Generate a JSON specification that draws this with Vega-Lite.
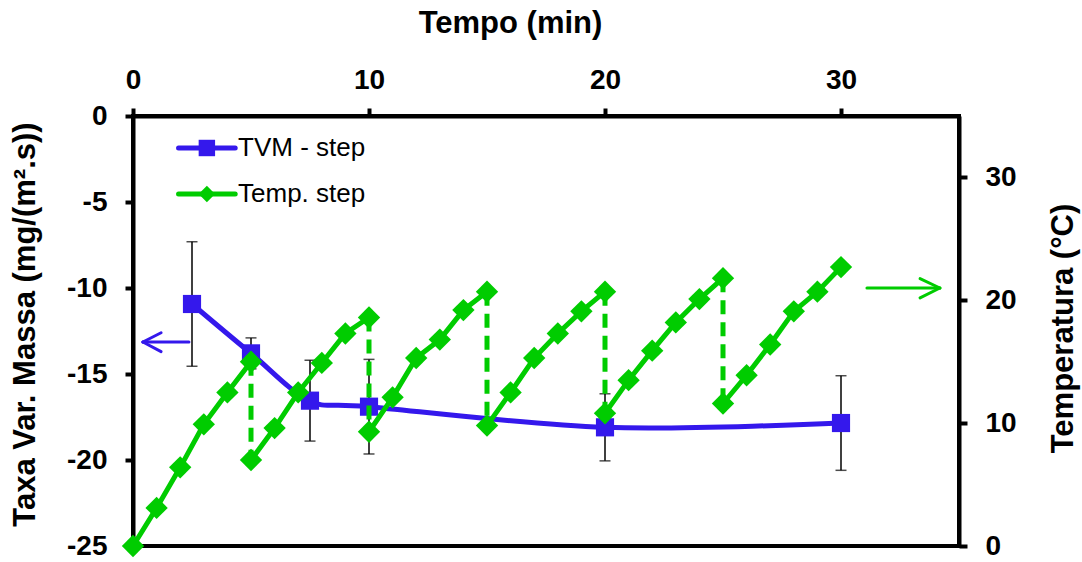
{
  "$schema": "https://vega.github.io/schema/vega-lite/v6.json",
  "width": 826,
  "height": 430,
  "autosize": {"type": "none"},
  "padding": {"left": 133, "top": 116, "right": 123, "bottom": 16},
  "background": "white",
  "config": {
    "font": "Liberation Sans",
    "view": {"stroke": "black", "strokeWidth": 4},
    "axis": {
      "grid": false,
      "domainColor": "black",
      "domainWidth": 4,
      "tickColor": "black",
      "tickWidth": 4,
      "tickSize": 8,
      "labelFlush": false,
      "labelExpr": "'' + datum.value",
      "labelFont": "Liberation Sans",
      "labelFontWeight": "bold",
      "labelFontSize": 28,
      "labelColor": "black",
      "titleFont": "Liberation Sans",
      "titleFontWeight": "bold",
      "titleFontSize": 31,
      "titleColor": "black"
    }
  },
  "datasets": {
    "tvm": [
      {"t": 2.5, "v": -10.93, "lo": -14.55, "hi": -7.31},
      {"t": 5, "v": -13.8, "lo": -14.7, "hi": -12.9},
      {"t": 7.5, "v": -16.55, "lo": -18.9, "hi": -14.2},
      {"t": 10, "v": -16.9, "lo": -19.65, "hi": -14.15},
      {"t": 20, "v": -18.1, "lo": -20.05, "hi": -16.15},
      {"t": 30, "v": -17.85, "lo": -20.6, "hi": -15.1}
    ],
    "temp": [
      {"ramp": 1, "t": 0, "temp": 0},
      {"ramp": 1, "t": 1, "temp": 3.1},
      {"ramp": 1, "t": 2, "temp": 6.4},
      {"ramp": 1, "t": 3, "temp": 9.9},
      {"ramp": 1, "t": 4, "temp": 12.5},
      {"ramp": 1, "t": 5, "temp": 15.0},
      {"ramp": 2, "t": 5, "temp": 7.0},
      {"ramp": 2, "t": 6, "temp": 9.6},
      {"ramp": 2, "t": 7, "temp": 12.5},
      {"ramp": 2, "t": 8, "temp": 14.9},
      {"ramp": 2, "t": 9, "temp": 17.3},
      {"ramp": 2, "t": 10, "temp": 18.6},
      {"ramp": 3, "t": 10, "temp": 9.3},
      {"ramp": 3, "t": 11, "temp": 12.1},
      {"ramp": 3, "t": 12, "temp": 15.3},
      {"ramp": 3, "t": 13, "temp": 16.8},
      {"ramp": 3, "t": 14, "temp": 19.2},
      {"ramp": 3, "t": 15, "temp": 20.7},
      {"ramp": 4, "t": 15, "temp": 9.8},
      {"ramp": 4, "t": 16, "temp": 12.5},
      {"ramp": 4, "t": 17, "temp": 15.3},
      {"ramp": 4, "t": 18, "temp": 17.3},
      {"ramp": 4, "t": 19, "temp": 19.1},
      {"ramp": 4, "t": 20, "temp": 20.7},
      {"ramp": 5, "t": 20, "temp": 10.8},
      {"ramp": 5, "t": 21, "temp": 13.5},
      {"ramp": 5, "t": 22, "temp": 15.9},
      {"ramp": 5, "t": 23, "temp": 18.2},
      {"ramp": 5, "t": 24, "temp": 20.1},
      {"ramp": 5, "t": 25, "temp": 21.8},
      {"ramp": 6, "t": 25, "temp": 11.6},
      {"ramp": 6, "t": 26, "temp": 13.9},
      {"ramp": 6, "t": 27, "temp": 16.4},
      {"ramp": 6, "t": 28, "temp": 19.1},
      {"ramp": 6, "t": 29, "temp": 20.7},
      {"ramp": 6, "t": 30, "temp": 22.7}
    ],
    "drops": [
      {"t": 5, "top": 15.0, "bottom": 7.0},
      {"t": 10, "top": 18.6, "bottom": 9.3},
      {"t": 15, "top": 20.7, "bottom": 9.8},
      {"t": 20, "top": 20.7, "bottom": 10.8},
      {"t": 25, "top": 21.8, "bottom": 11.6}
    ],
    "arrowLeft": [
      {"x1": 0.42, "y1": -13.14, "x2": 2.37, "y2": -13.14},
      {"x1": 0.42, "y1": -13.14, "x2": 1.19, "y2": -12.6},
      {"x1": 0.42, "y1": -13.14, "x2": 1.19, "y2": -13.7}
    ],
    "arrowRight": [
      {"x1": 31.1, "y1": 21.0, "x2": 34.19, "y2": 21.0},
      {"x1": 34.19, "y1": 21.0, "x2": 33.35, "y2": 21.76},
      {"x1": 34.19, "y1": 21.0, "x2": 33.35, "y2": 20.2}
    ],
    "key": [
      {"series": "TVM - step", "x1": 1.93, "x2": 4.33, "xm": 3.13, "xt": 4.45, "y": -1.86},
      {"series": "Temp. step", "x1": 1.93, "x2": 4.33, "xm": 3.13, "xt": 4.45, "y": -4.53}
    ]
  },
  "layer": [
    {
      "layer": [
        {
          "data": {"name": "tvm"},
          "mark": {"type": "rule", "color": "black", "strokeWidth": 1.5},
          "encoding": {
            "x": {
              "field": "t",
              "type": "quantitative",
              "scale": {"domain": [0, 35], "nice": false, "zero": false},
              "axis": {
                "orient": "top",
                "values": [0, 10, 20, 30],
                "title": "Tempo (min)",
                "labelPadding": 14,
                "titleX": 377,
                "titleY": -84,
                "titleAlign": "center",
                "titleBaseline": "alphabetic"
              }
            },
            "y": {
              "field": "lo",
              "type": "quantitative",
              "scale": {"domain": [-25, 0], "nice": false, "zero": false},
              "axis": {
                "orient": "left",
                "values": [-25, -20, -15, -10, -5, 0],
                "title": "Taxa Var. Massa (mg/(m².s))",
                "labelPadding": 18,
                "titleAngle": 270,
                "titleX": -108,
                "titleY": 208,
                "titleAlign": "center",
                "titleBaseline": "middle"
              }
            },
            "y2": {"field": "hi"}
          }
        },
        {
          "data": {"name": "tvm"},
          "mark": {"type": "tick", "orient": "horizontal", "color": "black", "size": 11, "thickness": 1.5},
          "encoding": {
            "x": {"field": "t", "type": "quantitative"},
            "y": {"field": "lo", "type": "quantitative"}
          }
        },
        {
          "data": {"name": "tvm"},
          "mark": {"type": "tick", "orient": "horizontal", "color": "black", "size": 11, "thickness": 1.5},
          "encoding": {
            "x": {"field": "t", "type": "quantitative"},
            "y": {"field": "hi", "type": "quantitative"}
          }
        },
        {
          "data": {"name": "tvm"},
          "mark": {"type": "line", "color": "#3418EC", "strokeWidth": 5, "interpolate": "cardinal"},
          "encoding": {
            "x": {"field": "t", "type": "quantitative"},
            "y": {"field": "v", "type": "quantitative"}
          }
        },
        {
          "data": {"name": "tvm"},
          "mark": {"type": "point", "shape": "square", "filled": true, "opacity": 1, "color": "#3418EC", "size": 330},
          "encoding": {
            "x": {"field": "t", "type": "quantitative"},
            "y": {"field": "v", "type": "quantitative"}
          }
        },
        {
          "data": {"name": "arrowLeft"},
          "mark": {"type": "rule", "color": "#3418EC", "strokeWidth": 3, "strokeCap": "round"},
          "encoding": {
            "x": {"field": "x1", "type": "quantitative"},
            "x2": {"field": "x2"},
            "y": {"field": "y1", "type": "quantitative"},
            "y2": {"field": "y2"}
          }
        },
        {
          "data": {"name": "key"},
          "mark": {"type": "rule", "strokeWidth": 5, "strokeCap": "round"},
          "encoding": {
            "x": {"field": "x1", "type": "quantitative"},
            "x2": {"field": "x2"},
            "y": {"field": "y", "type": "quantitative"},
            "color": {
              "field": "series",
              "type": "nominal",
              "scale": {"domain": ["TVM - step", "Temp. step"], "range": ["#3418EC", "#00CC00"]},
              "legend": null
            }
          }
        },
        {
          "data": {"name": "key"},
          "mark": {"type": "point", "filled": true, "opacity": 1, "size": 270},
          "encoding": {
            "x": {"field": "xm", "type": "quantitative"},
            "y": {"field": "y", "type": "quantitative"},
            "color": {"field": "series", "type": "nominal", "legend": null},
            "shape": {
              "field": "series",
              "type": "nominal",
              "scale": {"domain": ["TVM - step", "Temp. step"], "range": ["square", "diamond"]},
              "legend": null
            }
          }
        },
        {
          "data": {"name": "key"},
          "mark": {"type": "text", "align": "left", "baseline": "middle", "font": "Liberation Sans", "fontSize": 26, "color": "black"},
          "encoding": {
            "x": {"field": "xt", "type": "quantitative"},
            "y": {"field": "y", "type": "quantitative"},
            "text": {"field": "series"}
          }
        }
      ]
    },
    {
      "layer": [
        {
          "data": {"name": "drops"},
          "mark": {"type": "rule", "color": "#00CC00", "strokeWidth": 5, "strokeDash": [14, 8]},
          "encoding": {
            "x": {"field": "t", "type": "quantitative"},
            "y": {
              "field": "top",
              "type": "quantitative",
              "scale": {"domain": [0, 35], "nice": false, "zero": false},
              "axis": {
                "orient": "right",
                "values": [0, 10, 20, 30],
                "title": "Temperatura (°C)",
                "labelPadding": 18,
                "titleAngle": 270,
                "titleX": 104,
                "titleY": 212,
                "titleAlign": "center",
                "titleBaseline": "middle"
              }
            },
            "y2": {"field": "bottom"}
          }
        },
        {
          "data": {"name": "temp"},
          "mark": {"type": "line", "color": "#00CC00", "strokeWidth": 5},
          "encoding": {
            "x": {"field": "t", "type": "quantitative"},
            "y": {"field": "temp", "type": "quantitative"},
            "detail": {"field": "ramp", "type": "nominal"}
          }
        },
        {
          "data": {"name": "temp"},
          "mark": {"type": "point", "shape": "diamond", "filled": true, "opacity": 1, "color": "#00CC00", "size": 500},
          "encoding": {
            "x": {"field": "t", "type": "quantitative"},
            "y": {"field": "temp", "type": "quantitative"}
          }
        },
        {
          "data": {"name": "arrowRight"},
          "mark": {"type": "rule", "color": "#00CC00", "strokeWidth": 3, "strokeCap": "round"},
          "encoding": {
            "x": {"field": "x1", "type": "quantitative"},
            "x2": {"field": "x2"},
            "y": {"field": "y1", "type": "quantitative"},
            "y2": {"field": "y2"}
          }
        }
      ]
    }
  ],
  "resolve": {"scale": {"y": "independent"}, "axis": {"y": "independent"}}
}
